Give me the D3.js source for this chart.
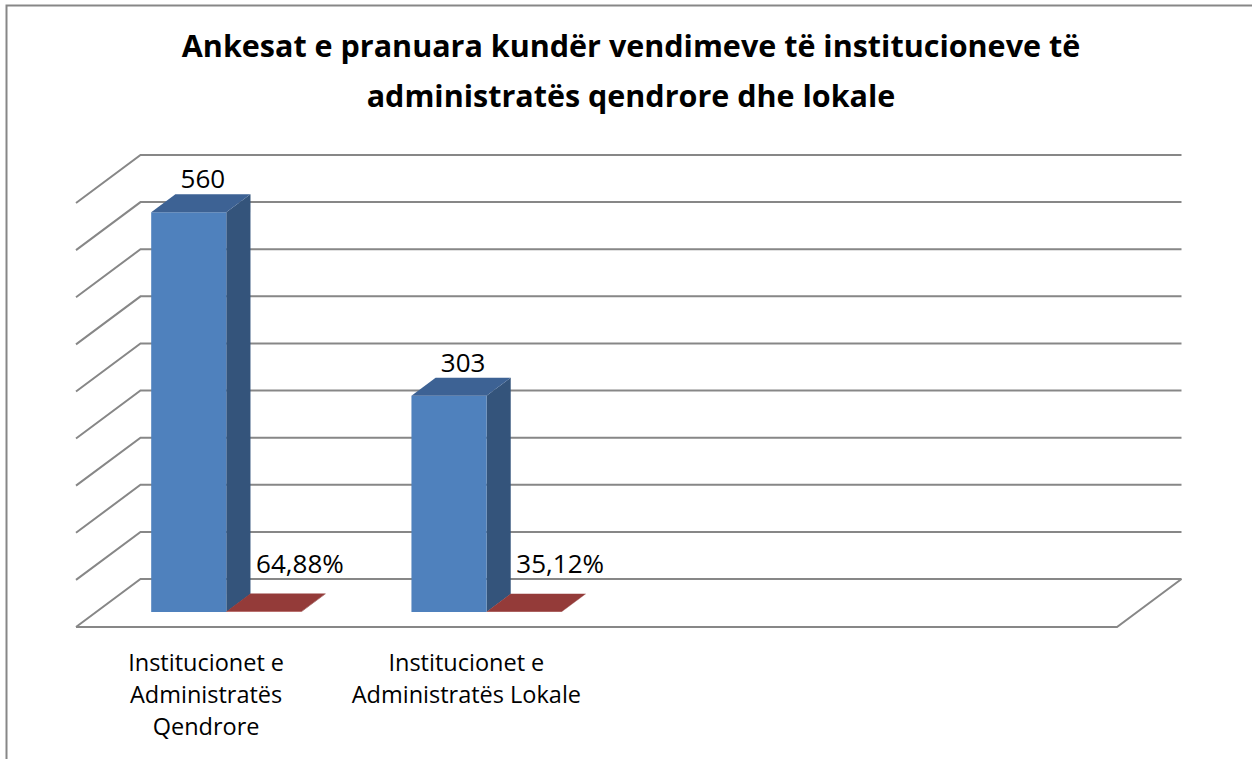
<!DOCTYPE html>
<html>
<head>
<meta charset="utf-8">
<script src="https://cdn.jsdelivr.net/npm/d3@7"></script>
<style>
  body { margin: 0; background: #fff; }
  svg { display: block; }
  text { font-family: "Open Sans", Lato, sans-serif; fill: #000; }
</style>
</head>
<body>
<div id="chart"></div>
<script>
// data
const titleLines = ['Ankesat e pranuara kundër vendimeve të institucioneve të', 'administratës qendrore dhe lokale'];
const categories = ['Institucionet e Administratës Qendrore', 'Institucionet e Administratës Lokale', '', ''];
const counts = [560, 303, null, null];
const shares = [0.6488, 0.3512, null, null];
const gridValues = [0, 66, 132, 198, 264, 330, 396, 462, 528, 594];

const W = 1253, H = 759;

// oblique 3D frame: front floor edge, depth offset of the back wall
const origin = {x: 76, y: 627};
const depth = {dx: 64.5, dy: 48};
const floorWidth = 1041;
const wallHeight = 424;
const barZ = [0.3125, 0.6875];

const svg = d3.select('#chart')
  .append('svg')
    .attr('width', W)
    .attr('height', H);

// chart border (cut off at the right and bottom)
svg.append('path')
  .attr('d', `M6.5,${H} V5.5 H1252`)
  .attr('fill', 'none')
  .attr('stroke', '#878787')
  .attr('stroke-width', 2);

// scales
const x = d3.scaleBand()
  .domain(d3.range(categories.length))
  .range([0, floorWidth])
  .paddingInner(0.423)
  .paddingOuter(0.2115);

const series = ['count', 'share'];
const xs = d3.scaleBand()
  .domain(series)
  .range([0, x.bandwidth()]);

const y = d3.scaleLinear()
  .domain([0, 594])
  .range([0, wallHeight]);

function proj(px, v, z) {
  return [origin.x + px + z * depth.dx, origin.y - y(v) - z * depth.dy];
}
const poly = pts => 'M' + pts.map(p => p.join(',')).join('L') + 'Z';

// gridlines: back wall + left side wall
const grid = svg.append('g')
  .attr('stroke', '#878787')
  .attr('stroke-width', 2)
  .attr('fill', 'none');

grid.selectAll('.wall')
  .data(gridValues)
  .join('path')
    .attr('class', 'wall')
    .attr('d', v => {
      const a = proj(0, v, 0), b = proj(0, v, 1), c = proj(floorWidth, v, 1);
      return `M${a}L${b}L${c}`;
    });

// floor front edge and right edge
grid.append('path')
  .attr('d', () => {
    const a = proj(0, 0, 0), b = proj(floorWidth, 0, 0), c = proj(floorWidth, 0, 1);
    return `M${a}L${b}L${c}`;
  });

// bars
const colors = {
  count: {front: '#4f81bd', top: '#3d6294', side: '#34547b'},
  share: {front: '#c0504d', top: '#943b39', side: '#7a2f2d'}
};

const bars = [];
categories.forEach((c, i) => {
  if (counts[i] != null) bars.push({i, s: 'count', v: counts[i]});
  if (shares[i] != null) bars.push({i, s: 'share', v: shares[i]});
});

const barG = svg.append('g');
bars.forEach(d => {
  const x0 = x(d.i) + xs(d.s), w = xs.bandwidth();
  const [z0, z1] = barZ;
  const g = barG.append('g');
  g.append('path')
    .attr('d', poly([proj(x0 + w, 0, z0), proj(x0 + w, 0, z1), proj(x0 + w, d.v, z1), proj(x0 + w, d.v, z0)]))
    .attr('fill', colors[d.s].side);
  g.append('path')
    .attr('d', poly([proj(x0, 0, z0), proj(x0 + w, 0, z0), proj(x0 + w, d.v, z0), proj(x0, d.v, z0)]))
    .attr('fill', colors[d.s].front);
  g.append('path')
    .attr('d', poly([proj(x0, d.v, z0), proj(x0 + w, d.v, z0), proj(x0 + w, d.v, z1), proj(x0, d.v, z1)]))
    .attr('fill', colors[d.s].top);
});

// data labels
const locale = d3.formatLocale({decimal: ',', thousands: '.', grouping: [3], currency: ['', '']});
const fmt = {count: d3.format('d'), share: locale.format('.2%')};
const labelOffset = {count: [2, -15], share: [24, -30]};

svg.append('g')
  .selectAll('text')
  .data(bars)
  .join('text')
    .attr('x', d => proj(x(d.i) + xs(d.s) + xs.bandwidth() / 2, d.v, 0.5)[0] + labelOffset[d.s][0])
    .attr('y', d => proj(x(d.i) + xs(d.s) + xs.bandwidth() / 2, d.v, 0.5)[1] + labelOffset[d.s][1])
    .attr('text-anchor', 'middle')
    .attr('font-size', 26)
    .text(d => fmt[d.s](d.v));

// category labels, wrapped
function wrap(sel, width) {
  sel.each(function (d) {
    const t = d3.select(this);
    const words = d.split(/\s+/).filter(Boolean);
    const cx = t.attr('x');
    let line = [];
    let ts = t.text(null).append('tspan').attr('x', cx).attr('dy', 0);
    words.forEach(wd => {
      line.push(wd);
      ts.text(line.join(' '));
      if (ts.node().getComputedTextLength() > width && line.length > 1) {
        line.pop();
        ts.text(line.join(' '));
        line = [wd];
        ts = t.append('tspan').attr('x', cx).attr('dy', 32).text(wd);
      }
    });
  });
}

svg.append('g')
  .selectAll('text')
  .data(categories)
  .join('text')
    .attr('x', (d, i) => origin.x + x(i) + x.bandwidth() / 2)
    .attr('y', 671)
    .attr('text-anchor', 'middle')
    .attr('font-size', 23.5)
    .text(d => d)
    .call(wrap, 245);

// title
svg.append('g')
  .selectAll('text')
  .data(titleLines)
  .join('text')
    .attr('x', 631)
    .attr('y', (d, i) => 57 + i * 49.5)
    .attr('text-anchor', 'middle')
    .attr('font-size', 30.5)
    .attr('font-weight', 'bold')
    .text(d => d);
</script>
</body>
</html>
